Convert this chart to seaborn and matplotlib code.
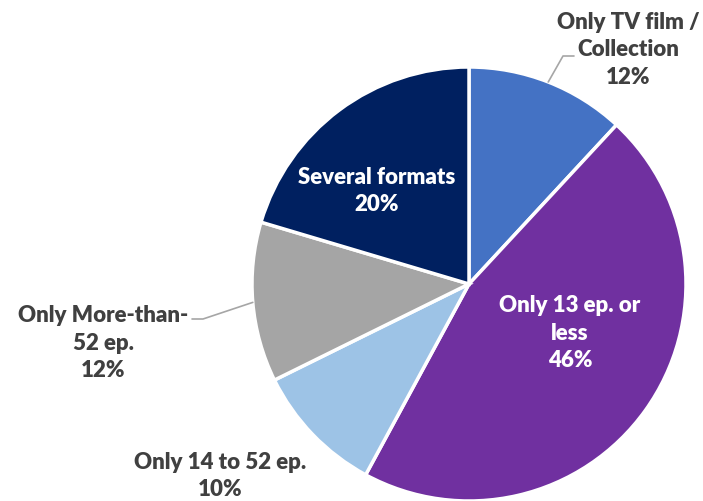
import numpy as np
import seaborn as sns
import matplotlib
matplotlib.use('Agg')
import matplotlib.pyplot as plt

labels = ["Only TV film /\nCollection", "Only 13 ep. or\nless", "Only 14 to 52 ep.",
          "Only More-than-\n52 ep.", "Several formats"]
shares = [11.9, 46.0, 9.8, 11.9, 20.4]
colors = ["#4472C4", "#7030A0", "#9DC3E6", "#A5A5A5", "#002060"]

sns.set_theme(style="white")
plt.rcParams['font.family'] = ['Lato', 'DejaVu Sans']

W, H = 703, 502
fig = plt.figure(figsize=(W / 100, H / 100), dpi=100)
ax = fig.add_axes([0, 0, 1, 1])

cx, cy, r = 469, H - 285, 217
ax.pie(shares, colors=colors, startangle=90, counterclock=False,
       center=(cx, cy), radius=r,
       wedgeprops=dict(edgecolor='white', linewidth=2.5))
ax.set_xlim(0, W)
ax.set_ylim(0, H)
ax.set_aspect('equal')
ax.axis('off')

# label positions in pixel space (x, y from top), text colour
label_pos = [(628, 50, '#404040'), (570, 333, 'white'), (220, 476, '#404040'),
             (103, 343, '#404040'), (377, 191, 'white')]
for lab, val, (x, y, c) in zip(labels, shares, label_pos):
    ax.text(x, H - y, f"{lab}\n{val:.0f}%", ha='center', va='center', color=c,
            fontsize=16, fontweight='heavy', linespacing=1.36)

# leader lines from slice midpoints
cum = np.cumsum([0] + shares)
mids = [90 - (cum[i] + shares[i] / 2) * 3.6 for i in range(len(shares))]

def edge_point(i):
    a = np.deg2rad(mids[i])
    return cx + r * np.cos(a), cy + r * np.sin(a)

x0, y0 = edge_point(0)
ax.plot([x0, 563, 574], [y0, H - 57, H - 57], color='#A6A6A6', lw=1.2)
x3, y3 = edge_point(3)
ax.plot([x3, 203, 192], [y3, H - 320, H - 320], color='#A6A6A6', lw=1.2)

plt.savefig('out.png', dpi=100)
